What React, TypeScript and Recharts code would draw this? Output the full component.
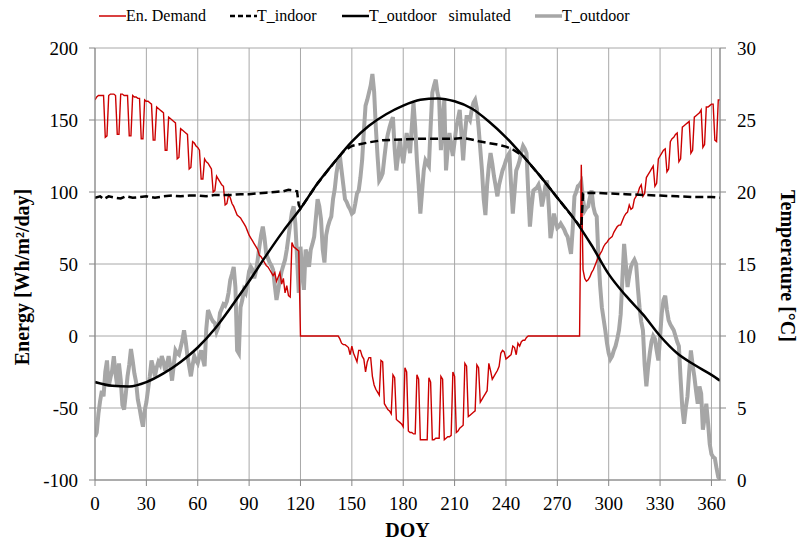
import React from "react"
import { LineChart, Line, XAxis, YAxis, CartesianGrid } from "recharts"

// day of year 0..365
const days: number[] = Array.from({ length: 366 }, (_, i) => i)

// Energy demand [Wh/m2/day], one value per day (positive = heating, negative = cooling)
const demand = [
  164, 166, 167, 167, 167, 167, 138, 139, 167, 168,
  168, 168, 167, 140, 140, 168, 168, 167, 167, 167,
  139, 139, 167, 166, 166, 165, 165, 137, 137, 164,
  163, 163, 162, 161, 136, 136, 159, 158, 157, 156,
  155, 129, 129, 152, 151, 150, 149, 148, 123, 124,
  144, 143, 142, 141, 140, 116, 117, 135, 134, 132,
  131, 129, 109, 109, 123, 121, 120, 118, 116, 100,
  101, 111, 109, 107, 105, 104, 91, 92, 98, 96,
  92, 90, 87, 84, 83, 82, 80, 78, 76, 73,
  70, 68, 66, 64, 62, 60, 56, 55, 53, 51,
  49, 48, 46, 44, 42, 44, 38, 41, 44, 36,
  40, 30, 35, 28, 27, 65, 62, 61, 60, 59,
  0, 0, 0, 0, 0, 0, 0, 0, 0, 0,
  0, 0, 0, 0, 0, 0, 0, 0, 0, 0,
  0, 0, 0, -2, -5, -6, -6, -7, -8, -13,
  -7, -12, -15, -18, -10, -10, -14, -16, -25, -18,
  -15, -15, -28, -34, -37, -39, -41, -17, -18, -47,
  -49, -51, -52, -54, -27, -29, -58, -59, -60, -61,
  -63, -22, -25, -66, -67, -67, -68, -68, -27, -30,
  -72, -72, -72, -72, -72, -29, -32, -72, -72, -71,
  -71, -71, -28, -30, -72, -71, -70, -70, -69, -25,
  -28, -67, -66, -64, -63, -62, -19, -21, -56, -55,
  -54, -53, -52, -20, -22, -46, -44, -42, -40, -38,
  -19, -24, -30, -28, -26, -24, -21, -12, -10, -11,
  -16, -15, -14, -13, -7, -8, -13, -5, -7, -4,
  -3, -3, -1, 0, 0, 0, 0, 0, 0, 0,
  0, 0, 0, 0, 0, 0, 0, 0, 0, 0,
  0, 0, 0, 0, 0, 0, 0, 0, 0, 0,
  0, 0, 0, 0, 119, 46, 40, 38, 39, 41,
  44, 46, 49, 52, 55, 57, 59, 62, 64, 65,
  67, 68, 69, 72, 74, 76, 77, 77, 80, 83,
  85, 86, 91, 88, 89, 95, 97, 99, 103, 105,
  97, 99, 110, 112, 114, 116, 118, 104, 106, 123,
  125, 127, 129, 130, 114, 116, 135, 137, 138, 140,
  141, 121, 123, 145, 146, 147, 148, 149, 127, 129,
  152, 153, 154, 155, 157, 131, 133, 159, 159, 160,
  161, 161, 136, 135, 164, 164,
]

// measured outdoor temperature [°C], one value per day
const tOutdoor = [
  3.0, 3.3, 4.6, 5.5, 6.2, 5.8, 7.5, 8.3, 6.5, 7.1,
  7.6, 8.6, 7.4, 6.5, 8.1, 7.0, 5.2, 4.9, 6.0, 7.2,
  8.0, 9.1, 8.3, 7.4, 6.8, 5.6, 5.0, 4.3, 3.7, 4.8,
  5.4, 6.3, 7.2, 8.3, 7.8, 7.2, 7.8, 8.2, 8.0, 8.6,
  8.2, 7.6, 8.0, 8.6, 7.9, 6.9, 8.0, 9.0, 8.8, 8.7,
  9.2, 9.7, 10.4, 9.6, 8.6, 7.9, 7.2, 8.0, 8.6, 8.3,
  8.1, 8.6, 9.0, 8.4, 7.9, 10.5, 11.8, 11.5, 11.2, 11.0,
  10.9, 10.3, 10.6, 11.6, 11.9, 12.2, 12.1, 12.4, 13.0, 13.9,
  14.3, 14.8, 13.4, 9.0, 8.8, 12.0, 12.5, 13.2, 13.0, 13.7,
  14.5, 14.8, 14.6, 14.0, 14.5, 15.3, 16.2, 17.0, 17.6, 16.8,
  15.7, 15.4, 15.1, 14.9, 14.6, 13.5, 12.5, 13.2, 13.9, 14.5,
  14.9, 15.3, 16.0, 16.9, 17.8, 18.6, 19.0, 17.8, 15.5, 13.0,
  16.2, 14.5, 13.2, 16.0, 15.6, 14.8, 16.0, 16.4, 16.9, 18.2,
  19.5, 19.0, 18.1, 16.0, 15.1, 17.0, 17.6, 18.0, 18.3, 19.5,
  20.2, 21.3, 22.0, 22.5, 21.5, 20.5, 19.5, 19.3, 19.0, 18.8,
  18.5, 18.6, 19.2, 19.9, 20.1, 21.0, 22.2, 24.2, 26.0, 26.4,
  26.9, 27.4, 28.2, 27.0, 24.5, 22.5, 20.8, 21.0, 21.3, 22.4,
  23.4, 24.0, 24.5, 24.9, 25.2, 23.0, 21.5, 22.5, 23.6, 22.8,
  22.0, 23.0, 24.1, 23.4, 22.7, 24.5, 26.2, 24.5, 22.2, 20.5,
  18.5, 20.0, 21.5, 22.2, 22.0, 21.8, 24.5, 26.9, 27.4, 27.8,
  26.9, 26.4, 22.9, 25.0, 26.4, 21.5, 23.0, 24.1, 23.2, 22.5,
  23.5, 24.5, 25.1, 25.7, 24.0, 22.2, 24.0, 25.2, 25.2, 25.0,
  25.7, 26.2, 26.4, 25.8, 24.5, 23.0, 21.5, 19.5, 18.4, 20.5,
  21.8, 22.7, 22.0, 21.1, 20.4, 19.7, 20.5, 21.0, 21.5, 21.8,
  22.2, 22.5, 22.7, 20.5, 18.5, 20.0, 21.5, 21.8, 22.2, 22.8,
  23.2, 23.0, 22.7, 20.0, 17.6, 19.0, 20.1, 20.2, 20.3, 20.5,
  20.0, 19.0, 19.6, 20.4, 20.8, 19.0, 16.8, 17.5, 18.5, 18.0,
  17.5, 17.6, 17.8, 17.6, 17.4, 17.1, 16.9, 16.3, 15.7, 17.5,
  19.7, 20.0, 20.4, 20.5, 20.7, 19.5, 18.7, 18.9, 19.0, 19.6,
  20.1, 19.0, 18.5, 18.3, 15.5, 13.5, 12.0, 11.2, 10.4, 9.5,
  8.8, 8.4, 8.6, 9.0, 9.3, 9.8, 10.4, 11.5, 14.0, 16.4,
  15.0, 13.4, 14.2, 14.8, 15.1, 15.3, 15.0, 13.4, 12.0, 11.0,
  10.4, 8.0, 6.5, 7.8, 8.8, 9.6, 10.0, 9.8, 9.0, 8.3,
  9.9, 11.6, 12.5, 12.8, 11.8, 11.1, 10.8, 10.6, 10.4, 10.0,
  9.6, 9.3, 7.0, 5.0, 3.9, 5.0, 5.8, 7.5, 9.0, 8.0,
  7.2, 6.2, 5.3, 6.5, 6.0, 3.5, 4.3, 5.3, 4.0, 2.5,
  1.8, 1.6, 1.5, 0.8, 0.2, 0.1,
]

// simulated outdoor temperature, read every 10 days
const simDays = [0, 10, 20, 30, 40, 50, 60, 70, 80, 90, 100, 110, 120, 130, 140, 150, 160, 170, 180, 190, 200, 210, 220, 230, 240, 250, 260, 270, 280, 290, 300, 310, 320, 330, 340, 350, 360, 365]
const tSimulated = [6.8, 6.55, 6.5, 6.8, 7.4, 8.2, 9.2, 10.5, 12.1, 13.8, 15.6, 17.3, 18.85, 20.6, 22.1, 23.5, 24.6, 25.4, 26.0, 26.4, 26.5, 26.3, 25.8, 24.9, 23.8, 22.5, 21.1, 19.6, 18.1, 16.3, 14.3, 12.8, 11.5, 10.0, 8.8, 8.0, 7.3, 6.9]

// indoor temperature
const indoorDays = [0, 3, 5, 8, 12, 15, 18, 22, 26, 30, 35, 40, 45, 50, 55, 60, 65, 70, 75, 80, 85, 90, 95, 100, 105, 110, 113, 116, 118, 119, 120, 130, 140, 145, 150, 160, 168, 180, 190, 200, 210, 215, 220, 225, 230, 235, 240, 244, 250, 260, 270, 280, 284, 285, 290, 300, 310, 320, 330, 340, 350, 360, 365]
const tIndoor = [19.6, 19.7, 19.5, 19.7, 19.6, 19.55, 19.7, 19.6, 19.65, 19.7, 19.6, 19.7, 19.75, 19.7, 19.75, 19.75, 19.7, 19.8, 19.8, 19.8, 19.85, 19.85, 19.9, 19.95, 20.0, 20.05, 20.15, 20.1, 20.05, 19.1, 18.85, 20.6, 22.1, 22.8, 23.2, 23.45, 23.6, 23.65, 23.7, 23.7, 23.7, 23.75, 23.65, 23.5, 23.4, 23.3, 23.15, 22.95, 22.5, 21.1, 19.6, 18.1, 17.5, 19.9, 19.95, 19.9, 19.85, 19.8, 19.75, 19.7, 19.65, 19.65, 19.6]

const xTicks = [0, 30, 60, 90, 120, 150, 180, 210, 240, 270, 300, 330, 360]
const energyTicks = [-100, -50, 0, 50, 100, 150, 200]
const tempTicks = [0, 5, 10, 15, 20, 25, 30]

const demandRows = days.map((d) => ({ day: d, value: demand[d] }))
const outdoorRows = days.map((d) => ({ day: d, value: tOutdoor[d] }))
const simRows = simDays.map((d, i) => ({ day: d, value: tSimulated[i] }))
const indoorRows = indoorDays.map((d, i) => ({ day: d, value: tIndoor[i] }))

const FONT = '"Liberation Serif", "Times New Roman", serif'
const AXIS = "#868686"
const GRID = "#a8a8a8"
const tick = { fontSize: 19, fill: "#000", fontFamily: FONT }

const legendItems = [
  { label: "En. Demand", x: 99, color: "#cc0000", width: 1.5, dash: undefined as string | undefined },
  { label: "T_indoor", x: 230, color: "#000", width: 2.5, dash: "5 3" },
  { label: "T_outdoor   simulated", x: 342, color: "#000", width: 2.5, dash: undefined },
  { label: "T_outdoor", x: 535, color: "#a6a6a6", width: 3.5, dash: undefined },
]

function ChartLegend() {
  return (
    <>
      {legendItems.map((it) => (
        <div
          key={it.label}
          style={{ position: "absolute", left: it.x, top: 6, height: 20, display: "flex", alignItems: "center", whiteSpace: "pre", fontSize: 16, color: "#000", fontFamily: FONT }}
        >
          <svg width={27} height={20}>
            <line x1={0} x2={27} y1={10} y2={10} stroke={it.color} strokeWidth={it.width} strokeDasharray={it.dash} />
          </svg>
          <span>{it.label}</span>
        </div>
      ))}
    </>
  )
}

export default function App() {
  return (
    <div style={{ position: "absolute", left: 0, top: 0, width: 797, height: 541, background: "#fff", fontFamily: FONT }}>
      <style>{`.recharts-wrapper text, .recharts-wrapper tspan { font-family: ${FONT}; }`}</style>
      <ChartLegend />
      <LineChart width={797} height={541} margin={{ top: 48, right: 17, bottom: 21, left: 35 }}>
        <CartesianGrid yAxisId="left" stroke={GRID} strokeWidth={1} />
        <XAxis
          dataKey="day"
          type="number"
          domain={[0, 365]}
          ticks={xTicks}
          allowDataOverflow
          height={40}
          tick={tick}
          tickSize={6}
          tickMargin={11}
          stroke={AXIS}
          tickLine={{ stroke: AXIS }}
        />
        <YAxis
          yAxisId="left"
          domain={[-100, 200]}
          ticks={energyTicks}
          allowDataOverflow
          width={60}
          tick={tick}
          tickSize={6}
          tickMargin={11}
          stroke={AXIS}
        />
        <YAxis
          yAxisId="right"
          orientation="right"
          domain={[0, 30]}
          ticks={tempTicks}
          allowDataOverflow
          width={60}
          tick={tick}
          tickSize={6}
          tickMargin={11}
          stroke={AXIS}
        />
        <Line yAxisId="right" data={outdoorRows} dataKey="value" type="linear" stroke="#a6a6a6" strokeWidth={4} dot={false} activeDot={false} isAnimationActive={false} />
        <Line yAxisId="left" data={demandRows} dataKey="value" type="linear" stroke="#cc0000" strokeWidth={1.4} dot={false} activeDot={false} isAnimationActive={false} />
        <Line yAxisId="right" data={simRows} dataKey="value" type="monotone" stroke="#000" strokeWidth={2.5} dot={false} activeDot={false} isAnimationActive={false} />
        <Line yAxisId="right" data={indoorRows} dataKey="value" type="linear" stroke="#000" strokeWidth={2.5} strokeDasharray="8 4" dot={false} activeDot={false} isAnimationActive={false} />
      </LineChart>
      <div style={{ position: "absolute", left: 0, width: 815, top: 520, textAlign: "center", fontWeight: "bold", fontSize: 20, lineHeight: "20px" }}>
        DOY
      </div>
      <div
        style={{ position: "absolute", left: 22, top: 277, transform: "translate(-50%, -50%) rotate(-90deg)", whiteSpace: "nowrap", fontWeight: "bold", fontSize: 20 }}
      >
        Energy [Wh/m²/day]
      </div>
      <div
        style={{ position: "absolute", left: 787, top: 266, transform: "translate(-50%, -50%) rotate(90deg)", whiteSpace: "nowrap", fontWeight: "bold", fontSize: 20 }}
      >
        Temperature [°C]
      </div>
    </div>
  )
}
